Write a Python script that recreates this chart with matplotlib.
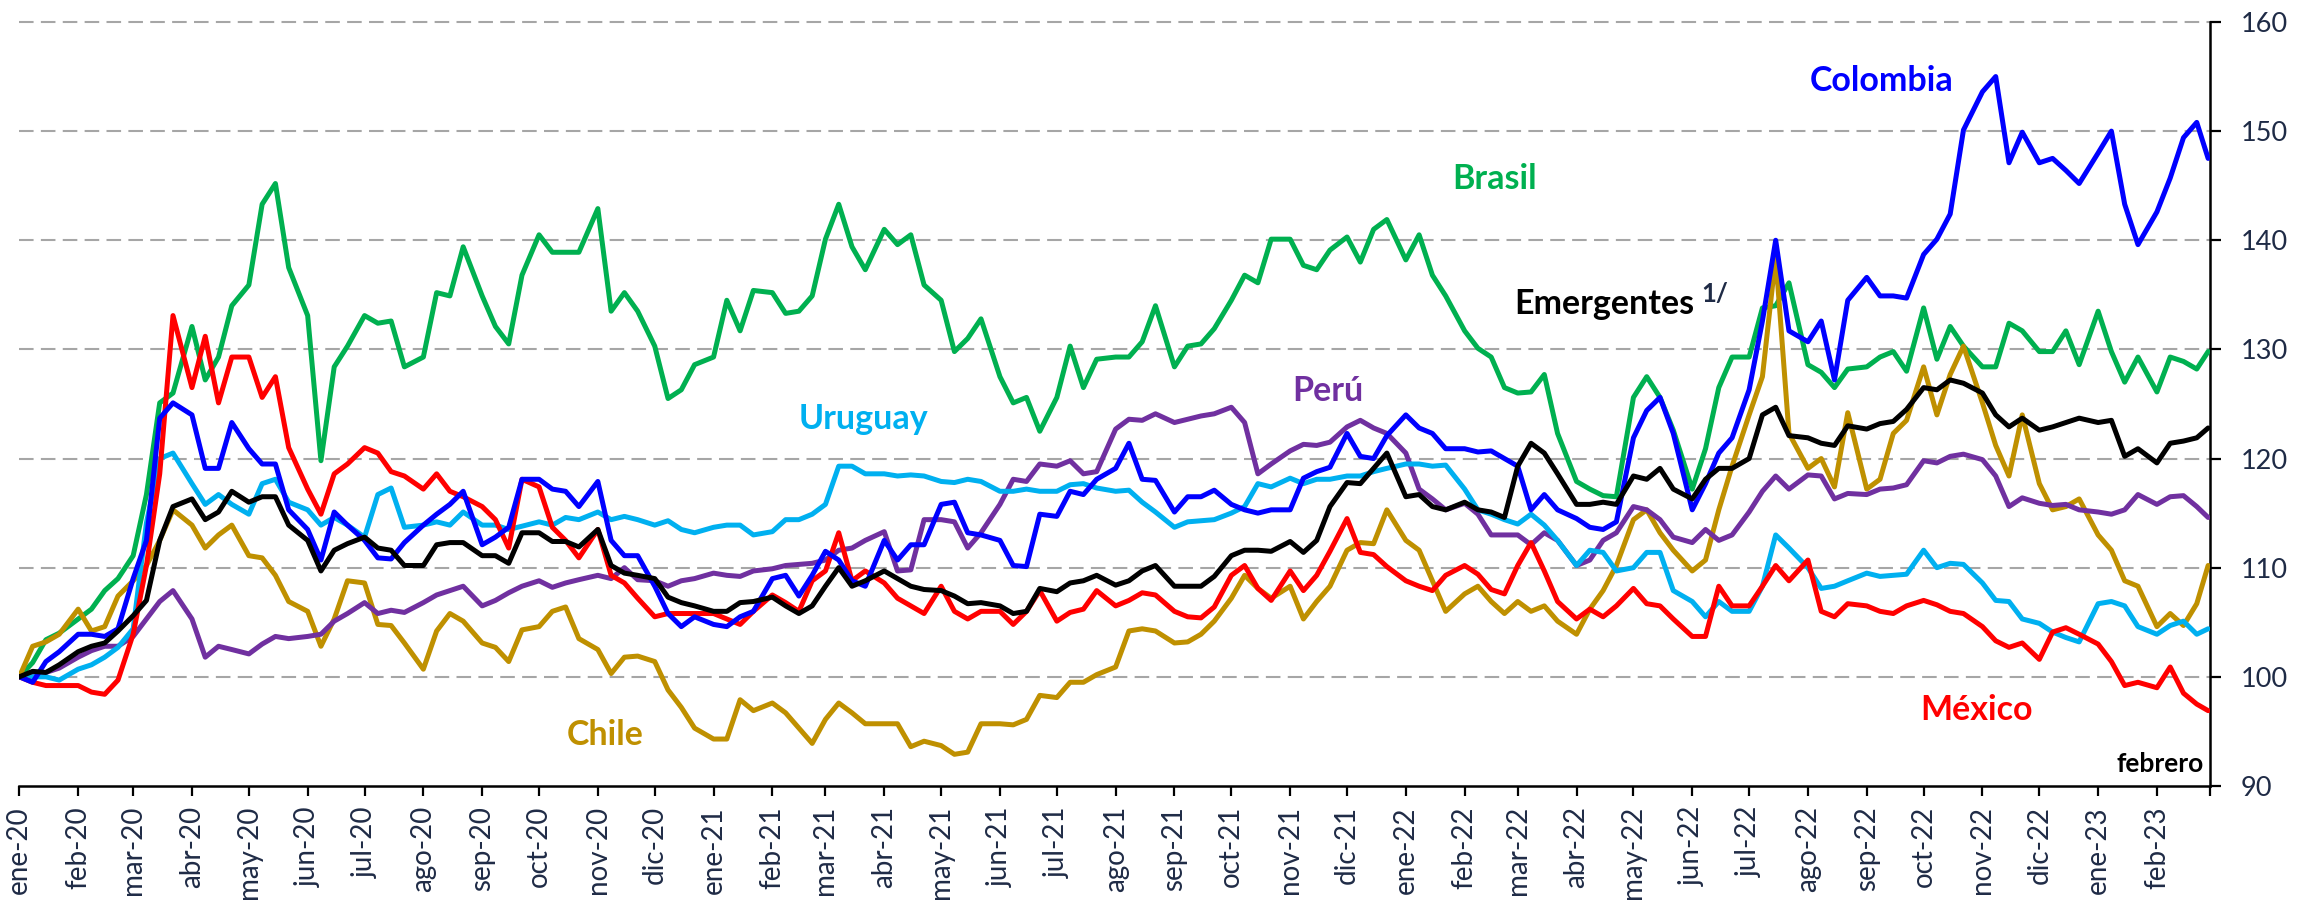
import numpy as np
import pandas as pd
import matplotlib
matplotlib.use("Agg")
import matplotlib.pyplot as plt
import matplotlib.dates as mdates

plt.rcParams["font.family"] = ["Lato", "DejaVu Sans"]

month_abbr = ["ene", "feb", "mar", "abr", "may", "jun",
              "jul", "ago", "sep", "oct", "nov", "dic"]

# Observation dates: days 1, 8, 15 and 22 of each month, plus the last day of the sample
month_starts = pd.date_range("2020-01-01", "2023-02-01", freq="MS")
dates = [m + pd.Timedelta(days=d) for m in month_starts for d in (0, 7, 14, 21)]
dates.append(pd.Timestamp("2023-02-28"))

# Exchange-rate indices (01/01/2020 = 100), one row per month
brasil = [
    100.0, 101.3, 103.4, 104.0,
    105.3, 106.2, 107.9, 109.0,
    111.1, 116.7, 125.1, 126.0,
    132.1, 127.2, 129.3, 134.0,
    135.9, 143.3, 145.2, 137.5,
    133.1, 119.8, 128.4, 130.3,
    133.1, 132.4, 132.6, 128.4,
    129.3, 135.2, 134.9, 139.4,
    134.9, 132.1, 130.5, 136.8,
    140.5, 138.9, 138.9, 138.9,
    142.9, 133.5, 135.2, 133.5,
    130.3, 125.5, 126.3, 128.6,
    129.3, 134.5, 131.7, 135.4,
    135.2, 133.3, 133.5, 134.9,
    140.1, 143.3, 139.4, 137.3,
    141.0, 139.6, 140.5, 135.9,
    134.5, 129.8, 131.0, 132.8,
    127.5, 125.1, 125.6, 122.5,
    125.6, 130.3, 126.5, 129.1,
    129.3, 129.3, 130.7, 134.0,
    128.4, 130.3, 130.5, 131.9,
    134.5, 136.8, 136.1, 140.1,
    140.1, 137.7, 137.3, 139.1,
    140.3, 138.0, 141.0, 141.9,
    138.2, 140.5, 136.8, 134.9,
    131.7, 130.1, 129.3, 126.5,
    126.0, 126.1, 127.7, 122.3,
    117.9, 117.2, 116.6, 116.5,
    125.6, 127.5, 125.6, 122.6,
    117.2, 120.9, 126.5, 129.3,
    129.3, 133.8, 134.0, 136.1,
    128.6, 127.9, 126.5, 128.2,
    128.4, 129.3, 129.8, 128.0,
    133.8, 129.1, 132.1, 130.3,
    128.4, 128.4, 132.4, 131.7,
    129.8, 129.8, 131.7, 128.6,
    133.5, 129.8, 127.0, 129.3,
    126.1, 129.3, 128.9, 128.2,
    129.8,
]

mexico = [
    100.0, 99.5, 99.2, 99.2,
    99.2, 98.6, 98.4, 99.7,
    103.9, 110.2, 118.6, 133.1,
    126.5, 131.2, 125.1, 129.3,
    129.3, 125.6, 127.5, 121.0,
    117.2, 114.9, 118.6, 119.5,
    121.0, 120.5, 118.8, 118.4,
    117.2, 118.6, 117.0, 116.5,
    115.6, 114.4, 111.8, 118.1,
    117.4, 113.7, 112.5, 110.9,
    113.5, 109.3, 108.6, 107.2,
    105.5, 105.8, 105.8, 105.8,
    105.8, 105.3, 104.8, 106.0,
    107.5, 106.8, 106.0, 108.8,
    109.7, 113.2, 108.8, 109.7,
    108.6, 107.2, 106.5, 105.8,
    108.3, 106.0, 105.3, 106.0,
    106.0, 104.8, 106.0, 107.9,
    105.1, 105.9, 106.2, 107.9,
    106.5, 107.0, 107.7, 107.5,
    106.0, 105.5, 105.4, 106.4,
    109.3, 110.2, 108.1, 107.0,
    109.7, 107.9, 109.3, 111.5,
    114.5, 111.4, 111.2, 110.1,
    108.8, 108.3, 107.9, 109.3,
    110.2, 109.4, 108.0, 107.6,
    110.2, 112.3, 109.7, 106.9,
    105.3, 106.2, 105.5, 106.5,
    108.1, 106.7, 106.5, 105.3,
    103.7, 103.7, 108.3, 106.5,
    106.5, 108.3, 110.2, 108.8,
    110.7, 106.0, 105.5, 106.7,
    106.5, 106.0, 105.8, 106.5,
    107.0, 106.6, 106.0, 105.8,
    104.6, 103.3, 102.7, 103.1,
    101.6, 104.1, 104.5, 103.9,
    103.0, 101.4, 99.2, 99.5,
    99.0, 100.9, 98.5, 97.5,
    96.9,
]

colombia = [
    100.0, 99.5, 101.4, 102.3,
    103.9, 103.9, 103.7, 104.4,
    109.0, 112.5, 123.7, 125.1,
    124.0, 119.1, 119.1, 123.3,
    120.9, 119.5, 119.5, 115.3,
    113.5, 110.7, 115.1, 113.9,
    112.5, 110.9, 110.8, 112.3,
    113.9, 114.9, 115.8, 117.0,
    112.1, 112.8, 113.7, 118.1,
    118.1, 117.2, 117.0, 115.6,
    117.9, 112.5, 111.1, 111.1,
    108.3, 105.8, 104.6, 105.5,
    104.8, 104.6, 105.5, 106.0,
    109.0, 109.3, 107.4, 109.3,
    111.5, 110.7, 108.8, 108.3,
    112.5, 110.7, 112.1, 112.1,
    115.8, 116.0, 113.2, 113.0,
    112.5, 110.2, 110.1, 114.9,
    114.7, 117.0, 116.7, 118.1,
    119.1, 121.4, 118.1, 118.0,
    115.1, 116.5, 116.5, 117.1,
    115.8, 115.3, 115.0, 115.3,
    115.3, 118.2, 118.8, 119.2,
    122.3, 120.2, 120.0, 122.1,
    124.0, 122.8, 122.3, 120.9,
    120.9, 120.6, 120.7, 120.0,
    119.3, 115.3, 116.7, 115.3,
    114.5, 113.7, 113.5, 114.2,
    121.9, 124.4, 125.6, 122.3,
    115.3, 117.7, 120.5, 121.9,
    126.3, 132.6, 140.0, 131.7,
    130.7, 132.6, 127.2, 134.5,
    136.6, 134.9, 134.9, 134.7,
    138.7, 140.1, 142.4, 150.1,
    153.6, 155.0, 147.1, 149.9,
    147.1, 147.5, 146.4, 145.2,
    148.0, 150.0, 143.3, 139.6,
    142.6, 145.7, 149.4, 150.8,
    147.5,
]

uruguay = [
    100.0, 100.0, 100.0, 99.7,
    100.7, 101.1, 101.8, 102.7,
    104.4, 114.1, 120.0, 120.5,
    117.7, 115.8, 116.7, 115.8,
    114.9, 117.7, 118.1, 116.0,
    115.3, 113.9, 114.6, 113.9,
    112.8, 116.7, 117.3, 113.7,
    113.9, 114.2, 113.9, 115.1,
    113.9, 113.9, 113.5, 113.8,
    114.2, 113.9, 114.6, 114.4,
    115.1, 114.4, 114.7, 114.4,
    113.9, 114.3, 113.5, 113.2,
    113.7, 113.9, 113.9, 113.0,
    113.3, 114.4, 114.4, 114.9,
    115.8, 119.3, 119.3, 118.6,
    118.6, 118.4, 118.5, 118.4,
    117.9, 117.8, 118.1, 117.9,
    117.0, 117.0, 117.2, 117.0,
    117.0, 117.6, 117.7, 117.3,
    117.0, 117.1, 116.0, 115.1,
    113.7, 114.2, 114.3, 114.4,
    115.0, 115.6, 117.7, 117.4,
    118.2, 117.7, 118.1, 118.1,
    118.4, 118.4, 118.8, 119.1,
    119.5, 119.5, 119.3, 119.4,
    117.2, 115.3, 114.9, 114.4,
    114.0, 114.9, 113.9, 112.5,
    110.2, 111.6, 111.4, 109.7,
    110.0, 111.4, 111.4, 107.9,
    106.9, 105.5, 106.9, 106.0,
    106.0, 108.3, 113.0, 111.8,
    110.0, 108.1, 108.3, 108.8,
    109.5, 109.2, 109.3, 109.4,
    111.6, 110.0, 110.4, 110.3,
    108.6, 107.0, 106.9, 105.3,
    104.9, 104.1, 103.6, 103.2,
    106.7, 106.9, 106.5, 104.6,
    103.9, 104.7, 105.1, 103.9,
    104.4,
]

emergentes = [
    100.0, 100.5, 100.4, 101.1,
    102.3, 102.8, 103.1, 104.2,
    105.6, 107.0, 112.5, 115.6,
    116.3, 114.4, 115.1, 117.0,
    116.0, 116.5, 116.5, 113.9,
    112.5, 109.7, 111.6, 112.2,
    112.8, 111.8, 111.6, 110.2,
    110.2, 112.1, 112.3, 112.3,
    111.1, 111.1, 110.4, 113.2,
    113.2, 112.4, 112.4, 111.9,
    113.5, 110.2, 109.5, 109.3,
    109.0, 107.3, 106.8, 106.5,
    106.0, 106.0, 106.8, 106.9,
    107.3, 106.5, 105.8, 106.5,
    108.3, 110.0, 108.3, 108.8,
    109.7, 109.0, 108.3, 108.0,
    107.9, 107.4, 106.7, 106.8,
    106.5, 105.8, 106.0, 108.1,
    107.8, 108.6, 108.8, 109.3,
    108.4, 108.8, 109.7, 110.2,
    108.3, 108.3, 108.3, 109.2,
    111.1, 111.6, 111.6, 111.5,
    112.4, 111.4, 112.5, 115.6,
    117.8, 117.7, 119.1, 120.5,
    116.5, 116.7, 115.6, 115.3,
    116.0, 115.3, 115.1, 114.6,
    119.3, 121.4, 120.5, 118.6,
    115.8, 115.8, 116.0, 115.8,
    118.4, 118.1, 119.1, 117.2,
    116.3, 118.1, 119.1, 119.1,
    120.0, 124.0, 124.7, 122.1,
    121.9, 121.4, 121.2, 123.0,
    122.7, 123.2, 123.4, 124.5,
    126.5, 126.3, 127.2, 126.9,
    126.0, 124.0, 122.9, 123.7,
    122.6, 122.9, 123.3, 123.7,
    123.3, 123.5, 120.2, 120.9,
    119.6, 121.4, 121.6, 121.9,
    122.8,
]

chile = [
    100.0, 102.8, 103.2, 103.9,
    106.2, 104.2, 104.6, 107.4,
    108.8, 110.2, 112.5, 115.3,
    113.9, 111.8, 113.0, 113.9,
    111.1, 110.9, 109.3, 106.9,
    106.0, 102.8, 105.3, 108.8,
    108.6, 104.8, 104.7, 103.1,
    100.7, 104.2, 105.8, 105.1,
    103.1, 102.7, 101.4, 104.3,
    104.6, 106.0, 106.4, 103.5,
    102.5, 100.3, 101.8, 101.9,
    101.4, 98.8, 97.2, 95.3,
    94.3, 94.3, 97.9, 96.9,
    97.6, 96.7, 95.3, 93.9,
    96.1, 97.6, 96.7, 95.7,
    95.7, 95.7, 93.6, 94.1,
    93.7, 92.9, 93.1, 95.7,
    95.7, 95.6, 96.1, 98.3,
    98.1, 99.5, 99.5, 100.2,
    100.9, 104.2, 104.4, 104.2,
    103.1, 103.2, 103.9, 105.1,
    107.2, 109.3, 108.1, 107.2,
    108.3, 105.3, 106.9, 108.3,
    111.6, 112.3, 112.2, 115.3,
    112.5, 111.6, 108.8, 106.0,
    107.6, 108.3, 106.9, 105.8,
    106.9, 106.0, 106.5, 105.1,
    103.9, 106.2, 107.9, 110.2,
    114.4, 115.3, 113.2, 111.6,
    109.7, 110.7, 115.3, 119.3,
    124.0, 127.5, 138.5, 122.3,
    119.1, 120.0, 117.4, 124.2,
    117.2, 118.1, 122.3, 123.5,
    128.4, 124.0, 127.7, 130.3,
    125.1, 121.2, 118.4, 124.0,
    117.7, 115.3, 115.6, 116.3,
    113.0, 111.6, 108.8, 108.3,
    104.6, 105.8, 104.7, 106.7,
    110.2,
]

peru = [
    100.0, 100.2, 100.4, 100.8,
    101.8, 102.4, 102.8, 102.8,
    103.7, 105.3, 106.9, 107.9,
    105.3, 101.8, 102.8, 102.5,
    102.1, 103.0, 103.7, 103.5,
    103.7, 103.9, 105.1, 105.8,
    106.8, 105.8, 106.1, 105.9,
    106.8, 107.5, 107.9, 108.3,
    106.5, 107.0, 107.7, 108.3,
    108.8, 108.2, 108.6, 108.9,
    109.3, 109.0, 110.0, 108.9,
    108.8, 108.3, 108.8, 109.0,
    109.5, 109.3, 109.2, 109.7,
    109.9, 110.2, 110.3, 110.4,
    110.7, 111.6, 111.8, 112.5,
    113.3, 109.7, 109.8, 114.4,
    114.4, 114.2, 111.8, 113.2,
    115.8, 118.1, 117.9, 119.5,
    119.3, 119.8, 118.6, 118.8,
    122.7, 123.6, 123.5, 124.1,
    123.3, 123.6, 123.9, 124.1,
    124.7, 123.3, 118.6, 119.5,
    120.7, 121.3, 121.2, 121.5,
    122.9, 123.5, 122.8, 122.3,
    120.5, 117.2, 116.3, 115.3,
    115.9, 114.9, 113.0, 113.0,
    113.0, 112.1, 113.2, 112.5,
    110.2, 110.7, 112.5, 113.2,
    115.6, 115.3, 114.4, 112.8,
    112.3, 113.5, 112.5, 113.0,
    115.1, 117.0, 118.4, 117.2,
    118.5, 118.4, 116.3, 116.8,
    116.7, 117.2, 117.3, 117.6,
    119.8, 119.6, 120.2, 120.4,
    119.9, 118.4, 115.6, 116.4,
    115.9, 115.7, 115.8, 115.3,
    115.1, 114.9, 115.3, 116.7,
    115.8, 116.5, 116.6, 115.6,
    114.6,
]

series = [
    (brasil, "#00B050"),
    (chile, "#BF9000"),
    (peru, "#7030A0"),
    (uruguay, "#00B0F0"),
    (mexico, "#FF0000"),
    (colombia, "#0000FF"),
    (emergentes, "#000000"),
]
for vals, _ in series:
    assert len(vals) == len(dates), len(vals)

TICK_COLOR = "#1F2B46"

fig = plt.figure(figsize=(23.05, 9.08), dpi=100)
ax = fig.add_axes([0.0084, 0.1344, 0.9504, 0.8414])

# dashed horizontal reference lines
for v in range(100, 161, 10):
    ax.axhline(v, color="#A6A6A6", lw=1.5, ls=(0, (7, 3.5)), zorder=1, clip_on=False)

for i, (vals, color) in enumerate(series):
    ax.plot(dates, vals, color=color, lw=3.6, zorder=3 + i,
            solid_joinstyle="round", solid_capstyle="round")

x0, x1 = pd.Timestamp("2020-01-01"), pd.Timestamp("2023-03-01")
ax.set_xlim(x0, x1)
ax.set_ylim(90, 160)

# month ticks with Spanish labels; the closing tick carries no label
tick_dates = pd.date_range("2020-01-01", "2023-03-01", freq="MS")
tick_labels = [f"{month_abbr[d.month - 1]}-{d.year % 100:02d}" for d in tick_dates]
tick_labels[-1] = ""
ax.set_xticks(tick_dates)
ax.set_xticklabels(tick_labels, rotation=90, fontsize=20, color=TICK_COLOR)
ax.tick_params(axis="x", direction="out", length=7.5, width=1.6, pad=7, color="black")

ax.yaxis.tick_right()
ax.set_yticks(range(90, 161, 10))
ax.set_yticklabels([str(v) for v in range(90, 161, 10)], fontsize=19.5, color=TICK_COLOR)
ax.tick_params(axis="y", direction="out", length=8, width=1.6, pad=14, color="black")

for side in ("left", "top"):
    ax.spines[side].set_visible(False)
for side in ("bottom", "right"):
    ax.spines[side].set_linewidth(1.8)
    ax.spines[side].set_color("black")


def d(s):
    return mdates.date2num(np.datetime64(s))


lab = dict(fontsize=24.5, fontweight="bold", ha="center", va="center", zorder=20)
ax.text(d("2022-09-09"), 154.6, "Colombia", color="#0000FF", **lab)
ax.text(d("2022-02-17"), 145.6, "Brasil", color="#00B050", **lab)
ax.text(d("2021-11-21"), 126.2, "Perú", color="#7030A0", **lab)
ax.text(d("2021-03-21"), 123.6, "Uruguay", color="#00B0F0", **lab)
ax.text(d("2020-11-05"), 94.7, "Chile", color="#BF9000", **lab)
ax.text(d("2022-10-29"), 97.0, "México", color="#FF0000", **lab)
em = ax.text(d("2022-02-27"), 134.2, "Emergentes", color="black",
             fontsize=24.5, fontweight="bold", ha="left", va="center", zorder=20)
ax.annotate("1/", xy=(1, 1), xycoords=em, xytext=(5, 4), textcoords="offset points",
            fontsize=18.5, fontweight="bold", ha="left", va="top", color=TICK_COLOR, zorder=20)
ax.text(0.997, 0.029, "febrero", transform=ax.transAxes, fontsize=19,
        fontweight="bold", ha="right", va="center", color="black", zorder=20)

fig.savefig("out.png", dpi=100)
